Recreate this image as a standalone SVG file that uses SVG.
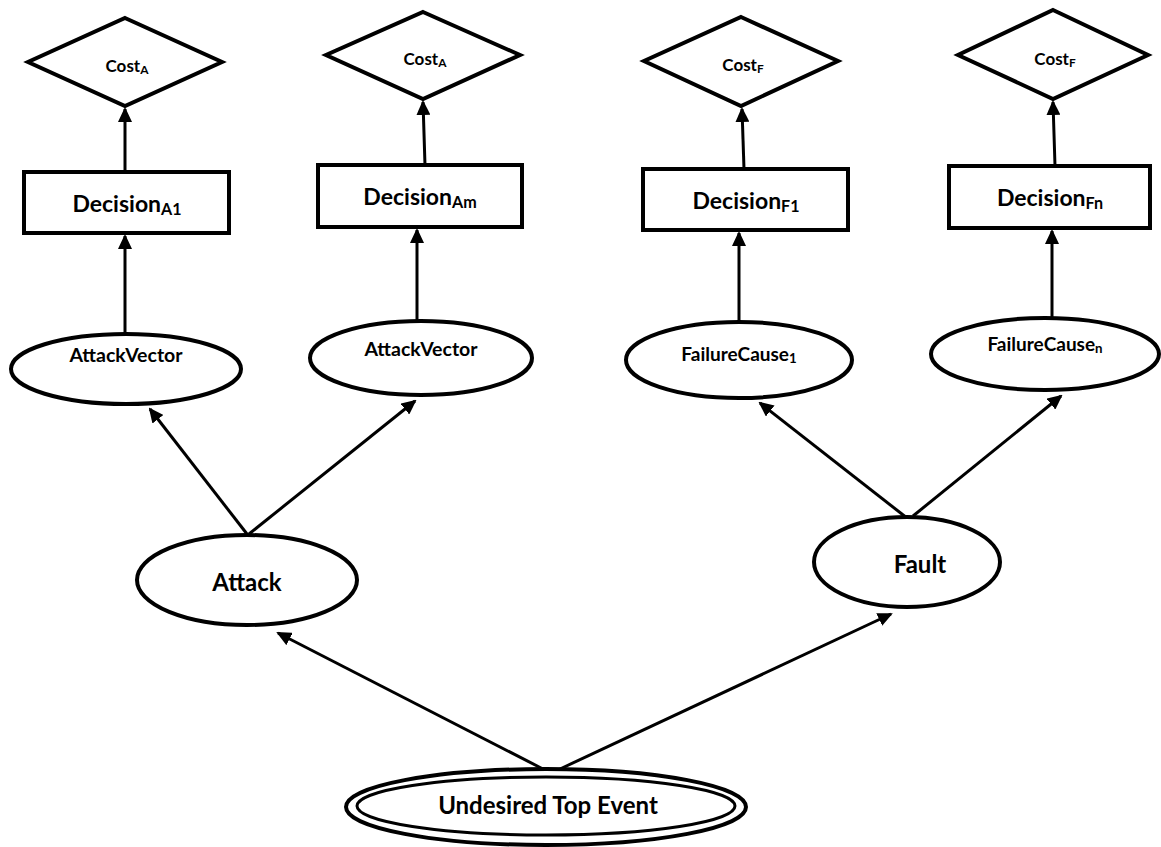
<svg xmlns="http://www.w3.org/2000/svg" width="1161" height="847" viewBox="0 0 1161 847">
<style>
.s{fill:#fff;stroke:#000;stroke-width:4}
.t{font-family:Lato,"Open Sans","Liberation Sans",sans-serif;font-weight:bold;fill:#000;text-anchor:middle}
.c{stroke:#000;stroke-width:3;fill:none;marker-end:url(#ah)}
.sub{font-size:70%}
</style>
<defs>
<marker id="ah" markerWidth="15" markerHeight="14" refX="13" refY="7" orient="auto" markerUnits="userSpaceOnUse">
<path d="M0,0 L15,7 L0,14 Z" fill="#000"/>
</marker>
</defs>
<rect width="1161" height="847" fill="#fff"/>
<g id="connectors">
<line class="c" x1="543" y1="769" x2="278" y2="633"/>
<line class="c" x1="560" y1="769" x2="891" y2="614"/>
<line class="c" x1="247" y1="534" x2="150" y2="409"/>
<line class="c" x1="249" y1="534" x2="415" y2="401"/>
<line class="c" x1="907" y1="518" x2="760" y2="403"/>
<line class="c" x1="913" y1="516" x2="1061" y2="396"/>
<line class="c" x1="125" y1="334" x2="125" y2="236"/>
<line class="c" x1="417" y1="321" x2="417" y2="230"/>
<line class="c" x1="739" y1="322" x2="739" y2="233"/>
<line class="c" x1="1052" y1="318" x2="1052" y2="231"/>
<line class="c" x1="125" y1="172" x2="125" y2="109"/>
<line class="c" x1="425" y1="165" x2="423" y2="102"/>
<line class="c" x1="744" y1="169" x2="742" y2="109"/>
<line class="c" x1="1055" y1="166" x2="1053" y2="102"/>
</g>
<g id="costA1"><polygon class="s" points="125,18 222,62 125,106 28,62"/><text class="t" x="127" y="72" font-size="17">Cost<tspan class="sub" dy="2">A</tspan></text></g>
<g id="costAm"><polygon class="s" points="423,12 520,55 423,99 326,55"/><text class="t" x="425" y="65" font-size="17">Cost<tspan class="sub" dy="2">A</tspan></text></g>
<g id="costF1"><polygon class="s" points="741,17 838,61 741,106 644,61"/><text class="t" x="743" y="71" font-size="17">Cost<tspan class="sub" dy="2">F</tspan></text></g>
<g id="costFn"><polygon class="s" points="1053,10 1148,55 1053,99 958,55"/><text class="t" x="1055" y="65" font-size="17">Cost<tspan class="sub" dy="2">F</tspan></text></g>
<g id="decA1"><rect class="s" x="24" y="172" width="205" height="61"/><text class="t" x="127" y="212" font-size="23">Decision<tspan class="sub" dy="3">A1</tspan></text></g>
<g id="decAm"><rect class="s" x="318" y="165" width="204" height="62"/><text class="t" x="420" y="205" font-size="23">Decision<tspan class="sub" dy="3">Am</tspan></text></g>
<g id="decF1"><rect class="s" x="643" y="169" width="205" height="61"/><text class="t" x="746" y="209" font-size="23">Decision<tspan class="sub" dy="3">F1</tspan></text></g>
<g id="decFn"><rect class="s" x="949" y="166" width="201" height="62"/><text class="t" x="1050" y="206" font-size="23">Decision<tspan class="sub" dy="3">Fn</tspan></text></g>
<g id="av1"><ellipse class="s" cx="126" cy="369" rx="115" ry="35"/><text class="t" x="126" y="362" font-size="19.5">AttackVector</text></g>
<g id="av2"><ellipse class="s" cx="421" cy="358" rx="111" ry="37"/><text class="t" x="421" y="356" font-size="19.5">AttackVector</text></g>
<g id="fc1"><ellipse class="s" cx="739" cy="360" rx="113" ry="38"/><text class="t" x="739" y="361" font-size="19">FailureCause<tspan class="sub" dy="2">1</tspan></text></g>
<g id="fcn"><ellipse class="s" cx="1045" cy="354" rx="114" ry="36"/><text class="t" x="1045" y="351" font-size="19">FailureCause<tspan class="sub" dy="2">n</tspan></text></g>
<g id="attack"><ellipse class="s" cx="247" cy="580" rx="110" ry="45"/><text class="t" x="247" y="591" font-size="24">Attack</text></g>
<g id="fault"><ellipse class="s" cx="907" cy="562" rx="93" ry="45"/><text class="t" x="920" y="573" font-size="24">Fault</text></g>
<g id="top"><ellipse class="s" cx="546" cy="807" rx="200" ry="38"/><ellipse fill="none" stroke="#000" stroke-width="3" cx="546" cy="806" rx="189" ry="29"/><text class="t" x="548" y="814" font-size="24">Undesired Top Event</text></g>
</svg>
